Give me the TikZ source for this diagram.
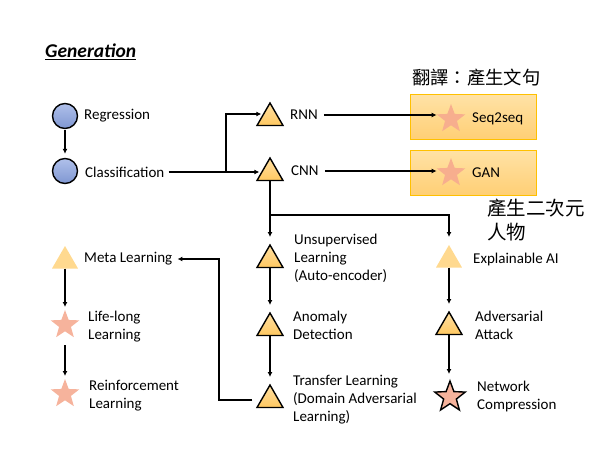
\documentclass[tikz,border=0pt]{standalone}
\usepackage{fontspec}
\setmainfont{Carlito}
\newfontfamily\cjk{Noto Sans CJK TC}
\usetikzlibrary{shapes.geometric,arrows.meta}
\definecolor{triT}{HTML}{FFE0A3}
\definecolor{triB}{HTML}{FFC861}
\definecolor{ptriC}{HTML}{FFD98F}
\definecolor{circT}{HTML}{B0C0EA}
\definecolor{circB}{HTML}{7F97D2}
\definecolor{starC}{HTML}{F6B39C}
\definecolor{bstarC}{HTML}{F7AE8E}
\definecolor{boxT}{HTML}{FFE2A6}
\definecolor{boxB}{HTML}{FFCF75}
\definecolor{boxD}{HTML}{FFC000}
\begin{document}
\begin{tikzpicture}[x=1pt,y=-1pt,
  lbl/.style={anchor=west,align=left,inner sep=0pt,font=\fontsize{15}{18}\selectfont},
  tri/.style={regular polygon,regular polygon sides=3,minimum size=30pt,inner sep=0pt,outer sep=0pt,draw=black,line width=1.4pt,top color=triT,bottom color=triB},
  ptri/.style={regular polygon,regular polygon sides=3,minimum size=30pt,inner sep=0pt,outer sep=0pt,fill=ptriC},
  circ/.style={circle,minimum size=25pt,inner sep=0pt,draw=black,line width=1.4pt,top color=circT,bottom color=circB},
  pstar/.style={star,star points=5,star point ratio=2.4,minimum size=30pt,inner sep=0pt,outer sep=0pt,fill=starC},
  bstar/.style={star,star points=5,star point ratio=2.4,minimum size=30pt,inner sep=0pt,outer sep=0pt,fill=bstarC},
  ostar/.style={star,star points=5,star point ratio=2.4,minimum size=32pt,inner sep=0pt,outer sep=0pt,fill=starC,draw=black,line width=1.4pt},
  arr/.style={line width=1.5pt,-{Latex[length=5pt,width=5pt]}},
  ln/.style={line width=1.5pt},
  bbox/.style={draw=boxD,line width=1pt,top color=boxT,bottom color=boxB,minimum width=126pt,minimum height=45pt,inner sep=0pt},
  cjklbl/.style={anchor=west,align=left,inner sep=0pt}
]
\useasboundingbox (0,0) rectangle (600,450);

% title
\node[anchor=west,inner sep=0pt,font=\fontsize{19.5}{22}\selectfont\bfseries\itshape] (title) at (45,52) {\underline{Generation}};

% boxes
\node[bbox] (box1) at (473,117) {};
\node[bbox] (box2) at (473,172.5) {};
\node[bstar] (s1) at (451,119) {};
\node[bstar] (s2) at (451,173) {};
\node[lbl] (s1t) at (472,119) {Seq2seq};
\node[lbl] (s2t) at (472,173) {GAN};
\node[cjklbl,font=\cjk\fontsize{18.3}{24}\selectfont] (c1) at (412,78) {翻譯：產生文句};
\node[cjklbl,font=\cjk\fontsize{19.5}{24}\selectfont] (c2) at (487,220) {產生二次元\\人物};

% left column top
\node[circ] (reg) at (65,116) {};
\node[lbl] (regt) at (84,116) {Regression};
\node[circ] (cls) at (65,171) {};
\node[lbl] (clst) at (85,172) {Classification};

% middle
\node[tri] (rnn) at (270,118) {};
\node[lbl] (rnnt) at (290,115) {RNN};
\node[tri] (cnn) at (270,173) {};
\node[lbl] (cnnt) at (291,171) {CNN};
\node[tri] (uns) at (270,260) {};
\node[lbl] (unst) at (294,258) {Unsupervised\\Learning\\(Auto-encoder)};
\node[tri] (ano) at (270,328) {};
\node[lbl] (anot) at (293,325) {Anomaly\\Detection};
\node[tri] (tl) at (270,400) {};
\node[lbl] (tlt) at (293,400) {Transfer Learning\\(Domain Adversarial\\Learning)};

% right column
\node[ptri] (expl) at (449,260) {};
\node[lbl] (explt) at (473,259) {Explainable AI};
\node[tri] (adv) at (449,327) {};
\node[lbl] (advt) at (475,325) {Adversarial\\Attack};
\node[ostar] (nc) at (450,397) {};
\node[lbl] (nct) at (477,396) {Network\\Compression};

% left column bottom
\node[ptri] (meta) at (65,261) {};
\node[lbl] (metat) at (84,259) {Meta Learning};
\node[pstar] (ll) at (65,325) {};
\node[lbl] (llt) at (88,327) {Life-long\\Learning};
\node[pstar] (rl) at (65,394) {};
\node[lbl] (rlt) at (89,396) {Reinforcement\\Learning};

% coordinates
\coordinate (br1) at (226,172);
\coordinate (br2) at (270,215);
\coordinate (j1) at (219,400);

% connectors
\draw[arr,shorten <=1pt,shorten >=4pt] (reg) -- (cls.north);
\draw[arr,shorten <=4pt,shorten >=2pt] (clst.east) -- (clst.east -| cnn.west);
\draw[arr] (br1) |- ([yshift=4pt]rnn.west);
\draw[arr,shorten <=6pt,shorten >=6pt] (rnnt.east) -- (rnnt.east -| s1.west);
\draw[arr,shorten <=6pt,shorten >=6pt] (cnnt.east) -- (cnnt.east -| s2.west);
\draw[arr,shorten >=8pt] (cnn.south) -- (uns.north);
\draw[arr,shorten >=8pt] (br2) -| (expl.north);
\draw[arr,shorten >=8pt] (uns.south) -- (ano.north);
\draw[arr,shorten >=8pt] (ano.south) -- (tl.north);
\draw[arr,shorten <=9pt,shorten >=5pt] (tl.west) -- (j1) |- (metat.east);
\draw[arr,shorten >=3pt] (meta.south) -- (ll.north);
\draw[arr,shorten <=14pt,shorten >=3pt] (ll) -- (rl.north);
\draw[arr,shorten >=8pt] (expl.south) -- (adv.north);
\draw[arr,shorten >=7pt] (adv.south) -- (adv.south |- nc.north);
\end{tikzpicture}
\end{document}
